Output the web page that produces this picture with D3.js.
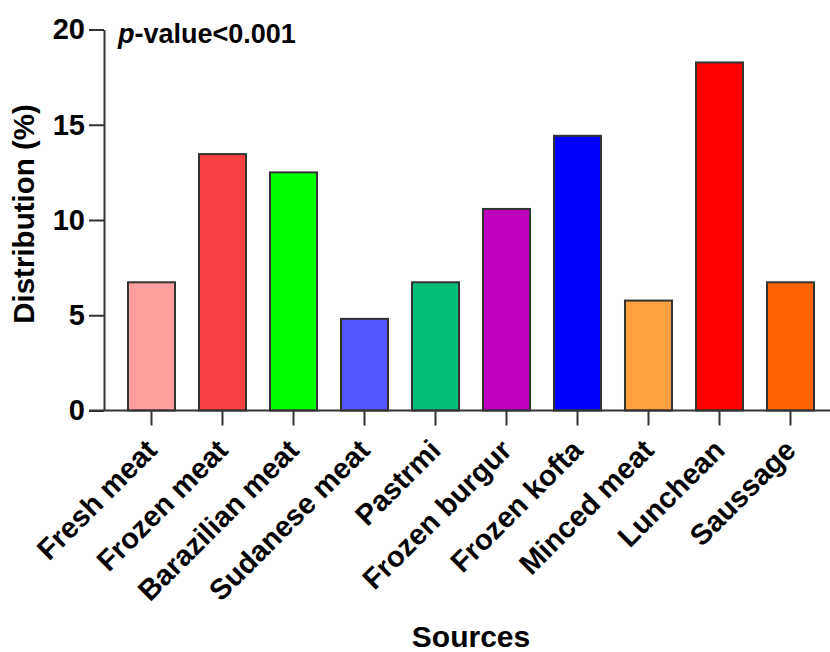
<!DOCTYPE html>
<html>
<head>
<meta charset="utf-8">
<script src="https://cdn.jsdelivr.net/npm/d3@7"></script>
<style>
  html, body { margin: 0; padding: 0; background: #fff; }
  svg { display: block; }
  text { font-family: "Liberation Sans", Arial, sans-serif; font-weight: bold; fill: #000; }
</style>
</head>
<body>
<svg id="chart" width="830" height="652"></svg>
<script>
const categories = ["Fresh meat", "Frozen meat", "Barazilian meat", "Sudanese meat", "Pastrmi",
                    "Frozen burgur", "Frozen kofta", "Minced meat", "Lunchean", "Saussage"];
const values = [6.73, 13.46, 12.5, 4.81, 6.73, 10.58, 14.42, 5.77, 18.27, 6.73];
const colors = ["#FF9E9E", "#F94144", "#00FF00", "#5555FF", "#04BF77",
                "#BF00BF", "#0000FF", "#FFA040", "#FF0000", "#FF6200"];
const yTicks = [0, 5, 10, 15, 20];
const yTitle = "Distribution (%)";
const xTitle = "Sources";

const svg = d3.select("#chart");
const axisColor = "#333";

const x = d3.scaleBand().domain(categories).range([104, 838]).padding(0.338);
const y = d3.scaleLinear().domain([0, 20]).range([410.5, 29.5]);

// bars
svg.append("g").selectAll("rect").data(values).join("rect")
  .attr("x", (d, i) => x(categories[i]))
  .attr("y", d => y(d))
  .attr("width", x.bandwidth())
  .attr("height", d => y(0) - y(d))
  .attr("fill", (d, i) => colors[i])
  .attr("stroke", axisColor)
  .attr("stroke-width", 2);

// y axis
const yAxis = svg.append("g").attr("transform", "translate(104,0)")
  .call(d3.axisLeft(y).tickValues(yTicks).tickSize(15).tickPadding(4).tickSizeOuter(0));
yAxis.select(".domain").attr("stroke", axisColor).attr("stroke-width", 2);
yAxis.selectAll(".tick line").attr("stroke", axisColor).attr("stroke-width", 2);
yAxis.selectAll(".tick text").attr("font-size", 29).attr("font-family", "Liberation Sans, Arial, sans-serif")
  .attr("font-weight", "bold").attr("fill", "#000");

// x axis
const xAxis = svg.append("g").attr("transform", "translate(0,410.5)")
  .call(d3.axisBottom(x).tickSize(15).tickSizeOuter(0).tickFormat(""));
xAxis.select(".domain").attr("d", "M89,0H830").attr("stroke", axisColor).attr("stroke-width", 2);
xAxis.selectAll(".tick line").attr("stroke", axisColor).attr("stroke-width", 2);

// rotated x labels
svg.append("g").selectAll("text").data(categories).join("text")
  .attr("transform", d => `translate(${x(d) + x.bandwidth() / 2 + 7},452) rotate(-45)`)
  .attr("text-anchor", "end")
  .attr("font-size", 29)
  .text(d => d);

// axis titles
svg.append("text")
  .attr("transform", "translate(34,214) rotate(-90)")
  .attr("text-anchor", "middle")
  .attr("font-size", 29.5)
  .text(yTitle);

svg.append("text")
  .attr("x", 471).attr("y", 647)
  .attr("text-anchor", "middle")
  .attr("font-size", 30)
  .text(xTitle);

// p-value annotation
const pv = svg.append("text").attr("x", 118).attr("y", 42.5).attr("font-size", 27);
pv.append("tspan").attr("font-style", "italic").text("p");
pv.append("tspan").text("-value<0.001");
</script>
</body>
</html>
